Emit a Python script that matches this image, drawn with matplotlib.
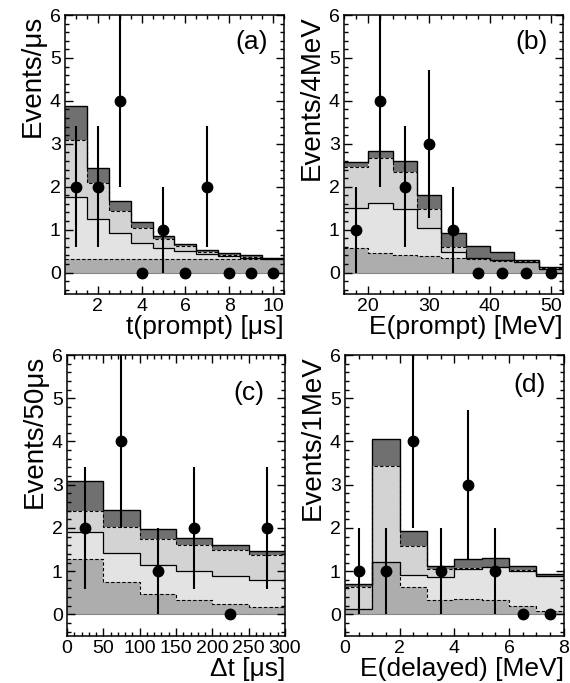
import numpy as np
import matplotlib
matplotlib.use('Agg')
import matplotlib.pyplot as plt
from matplotlib.ticker import MultipleLocator

plt.rcParams['font.family'] = ['Liberation Sans', 'DejaVu Sans']
plt.rcParams['mathtext.default'] = 'regular'

# ---- panel (a): t(prompt) ----
a_edges = [0.5, 1.5, 2.5, 3.5, 4.5, 5.5, 6.5, 7.5, 8.5, 9.5, 10.5]
a_l1 = [0.32, 0.32, 0.32, 0.32, 0.32, 0.32, 0.32, 0.32, 0.32, 0.32]
a_l2 = [1.77, 1.25, 0.92, 0.70, 0.57, 0.50, 0.43, 0.38, 0.35, 0.32]
a_l3 = [3.08, 2.08, 1.44, 1.03, 0.78, 0.61, 0.48, 0.41, 0.37, 0.33]
a_l4 = [3.87, 2.43, 1.67, 1.17, 0.85, 0.66, 0.53, 0.45, 0.40, 0.35]
a_x = [1, 2, 3, 4, 5, 6, 7, 8, 9, 10]
a_n = [2, 2, 4, 0, 1, 0, 2, 0, 0, 0]
a_err = [1.41, 1.41, 2.0, 0, 1.0, 0, 1.41, 0, 0, 0]

# ---- panel (b): E(prompt) ----
b_edges = [16, 20, 24, 28, 32, 36, 40, 44, 48, 52]
b_l1 = [0.58, 0.45, 0.40, 0.38, 0.34, 0.31, 0.28, 0.24, 0.09]
b_l2 = [1.50, 1.61, 1.49, 1.03, 0.47, 0.33, 0.29, 0.25, 0.09]
b_l3 = [2.47, 2.67, 2.34, 1.49, 0.60, 0.35, 0.30, 0.26, 0.10]
b_l4 = [2.57, 2.83, 2.60, 1.81, 0.92, 0.63, 0.48, 0.30, 0.13]
b_x = [18, 22, 26, 30, 34, 38, 42, 46, 50]
b_n = [1, 4, 2, 3, 1, 0, 0, 0, 0]
b_err = [1.0, 2.0, 1.41, 1.73, 1.0, 0, 0, 0, 0]

# ---- panel (c): delta t ----
c_edges = [0, 50, 100, 150, 200, 250, 300]
c_l1 = [1.28, 0.74, 0.47, 0.33, 0.23, 0.17]
c_l2 = [1.90, 1.43, 1.15, 1.01, 0.89, 0.80]
c_l3 = [2.40, 2.03, 1.74, 1.60, 1.49, 1.37]
c_l4 = [3.09, 2.41, 1.97, 1.77, 1.60, 1.46]
c_x = [25, 75, 125, 175, 225, 275]
c_n = [2, 4, 1, 2, 0, 2]
c_err = [1.41, 2.0, 1.0, 1.41, 0, 1.41]

# ---- panel (d): E(delayed) ----
d_edges = [0, 1, 2, 3, 4, 5, 6, 7, 8]
d_l1 = [0.12, 1.22, 0.63, 0.33, 0.35, 0.33, 0.20, 0.08]
d_l2 = [0.12, 1.22, 0.91, 0.86, 1.06, 1.09, 1.01, 0.88]
d_l3 = [0.63, 3.44, 1.59, 1.05, 1.07, 1.10, 1.02, 0.89]
d_l4 = [0.70, 4.06, 1.92, 1.12, 1.28, 1.30, 1.13, 0.93]
d_x = [0.5, 1.5, 2.5, 3.5, 4.5, 5.5, 6.5, 7.5]
d_n = [1, 1, 4, 1, 3, 1, 0, 0]
d_err = [1.0, 1.0, 2.0, 1.0, 1.73, 1.0, 0, 0]

panels = [
    dict(edges=a_edges, l1=a_l1, l2=a_l2, l3=a_l3, l4=a_l4, x=a_x, n=a_n, err=a_err,
         rect=[0.114, 0.5695, 0.384, 0.4085], xlim=(0.5, 10.5), major=2, minor=0.5,
         xlabel='t(prompt) [μs]', ylabel='Events/μs', tag='(a)', tagpos=(0.855, 0.905)),
    dict(edges=b_edges, l1=b_l1, l2=b_l2, l3=b_l3, l4=b_l4, x=b_x, n=b_n, err=b_err,
         rect=[0.6035, 0.5695, 0.384, 0.4085], xlim=(16, 52), major=10, minor=2,
         xlabel='E(prompt) [MeV]', ylabel='Events/4MeV', tag='(b)', tagpos=(0.858, 0.905)),
    dict(edges=c_edges, l1=c_l1, l2=c_l2, l3=c_l3, l4=c_l4, x=c_x, n=c_n, err=c_err,
         rect=[0.1175, 0.0688, 0.3825, 0.4114], xlim=(0, 300), major=50, minor=10,
         xlabel='Δt [μs]', ylabel='Events/50μs', tag='(c)', tagpos=(0.835, 0.865)),
    dict(edges=d_edges, l1=d_l1, l2=d_l2, l3=d_l3, l4=d_l4, x=d_x, n=d_n, err=d_err,
         rect=[0.605, 0.0688, 0.384, 0.4114], xlim=(0, 8), major=2, minor=0.5,
         xlabel='E(delayed) [MeV]', ylabel='Events/1MeV', tag='(d)', tagpos=(0.845, 0.893)),
]

fig = plt.figure(figsize=(5.7, 6.83), dpi=100)

for p in panels:
    ax = fig.add_axes(p['rect'])
    e = p['edges']
    ax.stairs(p['l1'], e, baseline=0, fill=True, color='#adadad', lw=0, zorder=1)
    ax.stairs(p['l2'], e, baseline=p['l1'], fill=True, color='#e3e3e3', lw=0, zorder=1)
    ax.stairs(p['l3'], e, baseline=p['l2'], fill=True, color='#d3d3d3', lw=0, zorder=1)
    ax.stairs(p['l4'], e, baseline=p['l3'], fill=True, color='#707070', lw=0, zorder=1)
    ax.stairs(p['l1'], e, baseline=None, color='k', lw=0.8, ls=(0, (3, 2)), zorder=2)
    ax.stairs(p['l2'], e, baseline=None, color='k', lw=0.9, zorder=2)
    ax.stairs(p['l3'], e, baseline=None, color='k', lw=0.8, ls=(0, (3, 2)), zorder=2)
    ax.stairs(p['l4'], e, baseline=None, color='k', lw=1.0, zorder=2)
    ax.axhline(0, color='#888888', lw=0.8, zorder=1.5)

    ax.errorbar(p['x'], p['n'], yerr=p['err'], fmt='o', color='k', ms=7.5,
                elinewidth=1.5, capsize=0, zorder=3, clip_on=True)

    ax.set_xlim(*p['xlim'])
    ax.set_ylim(-0.5, 6)
    ax.xaxis.set_major_locator(MultipleLocator(p['major']))
    ax.xaxis.set_minor_locator(MultipleLocator(p['minor']))
    ax.yaxis.set_major_locator(MultipleLocator(1))
    ax.yaxis.set_minor_locator(MultipleLocator(0.2))
    ax.tick_params(which='both', direction='in', top=True, right=True, width=1.0)
    ax.tick_params(which='major', length=6, labelsize=14, pad=3)
    ax.tick_params(which='minor', length=3)
    for s in ax.spines.values():
        s.set_linewidth(1.1)

    ax.set_xlabel(p['xlabel'], fontsize=19, loc='right', labelpad=0)
    ax.set_ylabel(p['ylabel'], fontsize=20, loc='top', labelpad=3)
    ax.text(p['tagpos'][0], p['tagpos'][1], p['tag'], transform=ax.transAxes,
            fontsize=19, ha='center', va='center')

fig.savefig('out.png', dpi=100)
